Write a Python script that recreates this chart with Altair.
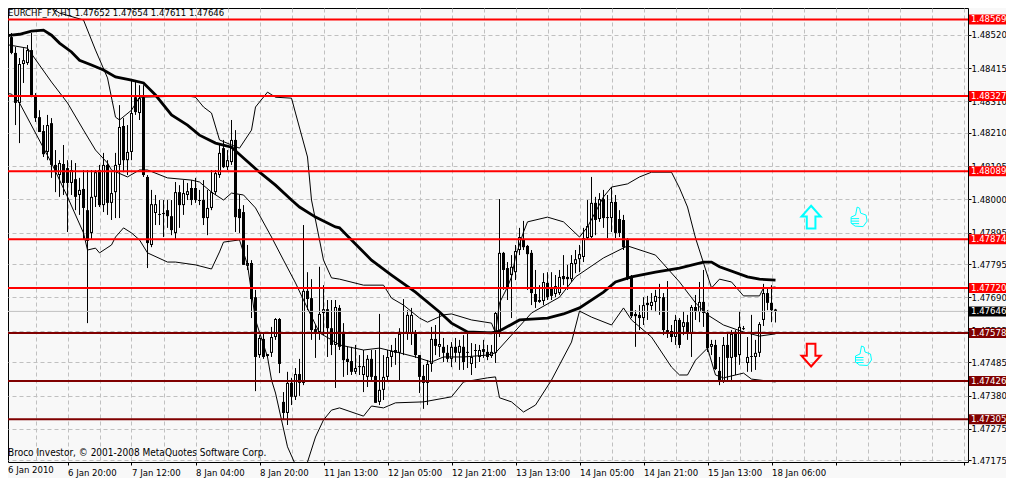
import altair as alt
import pandas as pd

# prices in 1e-5 units
highs = [148526,148526,148526,148482,148447,148478,148488,148526,148336,148282,148235,148267,148257,148156,148124,148172,148124,148124,148115,148068,148093,148093,148093,148093,148109,148147,148124,148086,148147,148298,148257,148235,148377,148371,148361,148361,148077,148030,148014,147998,147998,147998,147998,148055,148045,148061,148052,148061,148068,148030,148061,148030,148093,148093,148178,148188,148156,148251,148219,148014,147982,147856,147808,147714,147571,147581,147511,147597,147625,147625,147391,147455,147436,147467,147496,147919,147770,147748,147603,147787,147729,147682,147682,147682,147666,147609,147534,147534,147540,147508,147524,147508,147524,147524,147638,147508,147524,147540,147562,147593,147685,147650,147657,147587,147508,147477,147492,147597,147603,147638,147562,147540,147549,147562,147556,147571,147578,147546,147543,147540,147556,147540,147540,147644,148001,147834,147802,147824,147856,147910,147932,147856,147840,147777,147729,147767,147770,147770,147761,147777,147824,147793,147824,147840,147856,147910,147998,148071,148008,148020,148030,148014,148039,148014,147966,147951,147878,147761,147650,147666,147691,147695,147704,147714,147733,147704,147742,147603,147635,147625,147647,147635,147666,147698,147739,147777,147650,147556,147556,147502,147565,147581,147587,147587,147647,147600,147565,147635,147556,147612,147733,147720,147729,147654]
opens = [148513,148478,148513,148463,148305,148428,148431,148472,148330,148260,148216,148150,148241,148109,148077,148112,148099,148052,148064,148014,148033,147966,147894,148008,148093,147982,148109,147989,148023,148109,148232,148124,148150,148323,148273,148323,148071,147856,147957,147951,147954,147966,147947,147894,148023,147982,148014,148036,148036,147998,147998,147941,147973,148023,148077,148162,148102,148118,148188,147970,147960,147790,147799,147691,147508,147559,147511,147515,147565,147622,147360,147325,147420,147376,147448,147420,147711,147688,147590,147581,147641,147653,147593,147540,147657,147578,147496,147489,147455,147473,147445,147439,147496,147442,147360,147398,147439,147502,147524,147515,147581,147578,147578,147578,147508,147442,147420,147480,147559,147534,147534,147515,147496,147534,147515,147534,147515,147480,147521,147502,147527,147518,147505,147515,147578,147831,147783,147761,147770,147840,147875,147853,147831,147701,147676,147679,147736,147723,147701,147704,147758,147755,147748,147796,147811,147818,147878,147881,147989,147938,148001,147944,147941,147992,147938,147935,147875,147752,147638,147635,147625,147673,147663,147676,147688,147691,147587,147584,147565,147619,147597,147612,147578,147660,147644,147676,147641,147534,147540,147458,147423,147540,147499,147581,147508,147593,147483,147502,147502,147515,147619,147704,147673,147652]
closes = [148482,148513,148463,148305,148428,148440,148472,148330,148257,148213,148143,148235,148109,148086,148115,148052,148052,148093,148008,148030,147973,147869,148008,148086,147982,148109,147989,148020,148109,148229,148124,148150,148273,148276,148320,148077,147862,147985,147985,147954,147957,147947,147903,148023,147982,148020,148026,147998,147998,147995,147941,147973,148023,148083,148147,148102,148124,148188,147944,147941,147793,147799,147685,147502,147562,147502,147505,147565,147622,147480,147325,147420,147376,147448,147420,147711,147685,147587,147581,147638,147653,147593,147540,147660,147534,147492,147486,147455,147467,147470,147473,147496,147439,147357,147398,147439,147502,147521,147515,147575,147575,147635,147635,147508,147439,147420,147480,147559,147537,147543,147515,147496,147534,147515,147537,147486,147518,147502,147524,147524,147518,147502,147518,147641,147831,147777,147723,147787,147837,147881,147849,147827,147704,147676,147682,147739,147691,147695,147726,147755,147748,147748,147799,147811,147827,147878,147916,147989,147935,148001,147941,147941,147992,147894,147894,147849,147752,147631,147631,147625,147666,147666,147676,147695,147691,147587,147581,147565,147619,147540,147612,147581,147660,147644,147676,147641,147530,147543,147464,147426,147540,147499,147575,147502,147597,147590,147502,147505,147515,147606,147704,147673,147650,147646]
lows = [148478,148418,148459,148235,148178,148368,148425,148323,148245,148213,148134,148124,148068,148023,148008,148014,147897,148014,147966,147951,147872,147609,147872,147976,147976,147960,147951,147935,147941,147941,148086,148077,148124,148267,148251,148071,147783,147849,147919,147919,147881,147910,147887,147872,147910,147951,147998,147982,147989,147982,147919,147887,147966,148014,148068,148099,148093,148109,147897,147894,147793,147777,147625,147394,147499,147496,147502,147502,147556,147451,147303,147287,147350,147366,147379,147413,147650,147556,147499,147556,147571,147502,147508,147404,147524,147439,147445,147445,147448,147445,147391,147407,147423,147357,147350,147366,147429,147470,147477,147429,147508,147556,147540,147499,147388,147338,147350,147455,147508,147502,147486,147486,147470,147486,147461,147461,147467,147445,147467,147486,147499,147492,147499,147483,147565,147714,147682,147625,147745,147824,147840,147714,147666,147657,147673,147666,147682,147682,147691,147698,147729,147714,147739,147767,147770,147802,147872,147878,147887,147929,147910,147878,147897,147878,147881,147840,147745,147625,147534,147587,147603,147619,147650,147644,147635,147571,147562,147549,147540,147530,147571,147556,147502,147619,147612,147597,147518,147508,147461,147413,147420,147429,147423,147445,147477,147587,147455,147455,147461,147502,147600,147650,147612,147611]

ma_i = [0,2,4,7,10,12,14,17,19,22,25,28,32,35,38,42,46,49,53,57,60,64,68,72,74,78,83,84,87,92,97,103,109,112,116,122,124,129,136,140,144,150,153,157,163,169,175,177,179,186,189,193]
ma_p = [148516,148519,148522,148532,148535,148519,148494,148466,148440,148425,148409,148387,148377,148368,148330,148267,148235,148203,148178,148165,148131,148086,148045,147998,147976,147944,147913,147910,147872,147808,147761,147707,147644,147609,147581,147578,147584,147619,147625,147638,147657,147707,147739,147755,147770,147783,147802,147802,147787,147755,147748,147745]

up_i = [10,14,20,23,26,28,29,32,34,46,48,50,52,54,57,59,62,63,66,68,72,73,76,77,79,80,82,84,90,95,97,100,104,106,110,112,117,122,123,124,126,127,128,130,131,136,140,144,146,150,152,156,159,162,167,169,171,173,175,177,179,182,185,189,190,193]
up_p = [148621,148589,148567,148472,148384,148260,148251,148282,148323,148327,148323,148292,148273,148188,148172,148162,148219,148292,148339,148323,148320,148273,148134,147998,147872,147808,147752,147748,147729,147729,147688,147666,147625,147612,147635,147638,147619,147609,147578,147673,147723,147755,147818,147897,147929,147944,147929,147881,147913,148008,148039,148049,148071,148086,148086,148036,147976,147878,147799,147720,147748,147739,147695,147695,147720,147723]

mid_i = [0,6,12,16,20,23,26,27,31,34,36,41,47,49,52,55,57,60,63,67,70,73,75,79,82,84,90,94,99,103,107,110,115,121,123,127,132,139,143,150,156,163,169,173,176,180,185,189,193]
mid_p = [148491,148478,148371,148305,148219,148156,148115,148093,148071,148093,148093,148068,148061,148055,148023,147998,148020,148014,147973,147881,147808,147736,147682,147578,147556,147540,147524,147530,147515,147502,147486,147502,147502,147508,147515,147571,147641,147691,147755,147815,147853,147824,147739,147673,147635,147603,147581,147568,147575]

low_i = [0,2,4,12,16,20,21,23,24,27,28,30,32,34,36,41,43,48,52,54,55,59,61,63,66,67,68,71,73,75,76,78,80,82,84,90,92,95,98,105,112,115,121,123,124,127,130,133,137,142,144,147,152,155,157,162,167,169,171,173,176,178,180,185,187,193]
low_p = [148336,148333,148305,148115,148008,147894,147840,147846,147831,147856,147881,147910,147894,147872,147831,147802,147802,147793,147780,147834,147865,147872,147793,147619,147502,147429,147388,147218,147161,147129,147170,147249,147303,147334,147341,147315,147347,147341,147357,147360,147376,147423,147436,147439,147373,147360,147328,147350,147429,147549,147647,147628,147603,147657,147619,147565,147470,147445,147445,147492,147530,147445,147436,147451,147432,147423]

red_levels = [1.48569,1.48327,1.48089,1.47874,1.47720]
dark_levels = [1.47578,1.47426,1.47305]
last_price = [1.47646]
y_ticks = [1.48520,1.48415,1.48310,1.48210,1.48105,1.48000,1.47895,1.47795,1.47690,1.47585,1.47485,1.47380,1.47275,1.47175]
x_grid = list(range(8,241,8))
x_labels = ['','6 Jan 20:00','7 Jan 12:00','8 Jan 04:00','8 Jan 20:00','11 Jan 13:00','12 Jan 05:00','12 Jan 21:00','13 Jan 13:00','14 Jan 05:00','14 Jan 21:00','15 Jan 13:00','18 Jan 06:00']
header = 'EURCHF_FX,H1  1.47652 1.47654 1.47611 1.47646'
credit = 'Broco Investor, © 2001-2008 MetaQuotes Software Corp.'
first_label = '6 Jan 2010'

FONT = 'DejaVu Sans Condensed'
FS = 9.5
BG = '#f8f8f8'
W, H = 960, 454

n = min(len(highs), len(opens), len(closes), len(lows))
df = pd.DataFrame({'i': range(n), 'h': highs[:n], 'o': opens[:n], 'c': closes[:n], 'l': lows[:n]})
df['top'] = df[['o','c']].max(axis=1)
df['bot'] = df[['o','c']].min(axis=1)
df['in_top'] = df['top'] - 3.2
df['in_bot'] = df['bot'] + 3.2
for col in ['h','o','c','l','top','bot','in_top','in_bot']:
    df[col] = df[col] / 1e5
bull = df[(df.c > df.o) & (df.in_top > df.in_bot)]

xs = alt.Scale(domain=[1.125, 241.125], nice=False, zero=False, padding=0)
ys = alt.Scale(domain=[1.47170, 1.48605], nice=False, zero=False, padding=0)

xaxis = alt.Axis(values=x_grid, title=None, grid=True, gridColor='#c0c0c0', gridDash=[4,3], gridWidth=1,
                 domain=False, tickColor='black', tickSize=3,
                 tickOpacity={'condition': {'test': 'datum.value % 16 == 0', 'value': 1}, 'value': 0},
                 labelAlign='left', labelPadding=2, labelFont=FONT, labelFontSize=FS, labelColor='black',
                 labelOverlap=False, labelFlush=False,
                 labelExpr=str(x_labels) + "[datum.value / 16] || ''")
yaxis = alt.Axis(orient='right', values=y_ticks, title=None, grid=True, gridColor='#c0c0c0', gridDash=[4,3], gridWidth=1,
                 domain=False, tickColor='black', tickSize=3, format='.5f',
                 labelAlign='left', labelPadding=0, labelFont=FONT, labelFontSize=FS, labelColor='black',
                 labelOverlap=False, labelFlush=False)

X = alt.X('i:Q', scale=xs, axis=xaxis)
def YF(field):
    return alt.Y(field, scale=ys, axis=yaxis)
Y = YF('p:Q')

wicks = alt.Chart(df).mark_rule(color='black', strokeWidth=1).encode(x=X, y=YF('h:Q'), y2='l:Q')
bodies = alt.Chart(df).mark_bar(size=3, color='black').encode(x=X, y=YF('top:Q'), y2='bot:Q')
inner = alt.Chart(bull).mark_rule(color='white', strokeWidth=1).encode(x=X, y=YF('in_top:Q'), y2='in_bot:Q')

def line(i_list, p_list, width):
    d = pd.DataFrame({'i': i_list, 'p': [v / 1e5 for v in p_list]})
    return alt.Chart(d).mark_line(color='black', strokeWidth=width, clip=True).encode(x=X, y=Y)

def levels(vals, color, width=2):
    return alt.Chart(pd.DataFrame({'p': vals})).mark_rule(color=color, strokeWidth=width).encode(y=Y)

def boxes(vals, color):
    d = pd.DataFrame({'p': vals, 't': ['%.5f' % v for v in vals]})
    box = alt.Chart(d).mark_rule(color=color, strokeWidth=10).encode(
        x=alt.value(961), x2=alt.value(998), y=Y)
    txt = alt.Chart(d).mark_text(color='white', align='left', baseline='middle', font=FONT, fontSize=FS).encode(
        x=alt.value(963), y=Y, text='t:N')
    return box + txt

UP = 'M0,-0.95 L0.8,-0.05 L0.36,-0.05 L0.36,0.95 L-0.36,0.95 L-0.36,-0.05 L-0.8,-0.05 Z'
DOWN = 'M0,0.95 L0.8,0.05 L0.36,0.05 L0.36,-0.95 L-0.36,-0.95 L-0.36,0.05 L-0.8,0.05 Z'
THUMB = ('M-0.2,-1 L0.05,-0.9 L0.15,-0.4 L0.7,-0.2 L0.8,0.4 L0.4,0.95 L-0.4,0.9 L-0.8,0.6 L-0.8,0 L-0.35,-0.2 Z '
         'M-0.8,0.15 L0,0.15 M-0.8,0.4 L0,0.4 M-0.75,0.65 L0,0.65')

def icon(i, p, path, size, color, sw):
    d = pd.DataFrame({'i': [i], 'p': [p]})
    return alt.Chart(d).mark_point(shape=path, size=size, filled=False, stroke=color, strokeWidth=sw, opacity=1).encode(x=X, y=Y)

def note(text, x, y, size=FS):
    return alt.Chart(pd.DataFrame({'t': [text]})).mark_text(align='left', baseline='middle', font=FONT, fontSize=size, color='black').encode(
        x=alt.value(x), y=alt.value(y), text='t:N')

layers = [
    wicks, bodies, inner,
    levels(last_price, '#c0c0c0', 1),
    line(ma_i, ma_p, 2.8), line(up_i, up_p, 1), line(mid_i, mid_p, 1), line(low_i, low_p, 1),
    levels(red_levels, '#ff0000'), levels(dark_levels, '#800000'),
    boxes(red_levels, '#ff0000'), boxes(dark_levels, '#800000'), boxes(last_price, 'black'),
    icon(201.9, 1.47944, UP, 576, '#00ffff', 2),
    icon(201.9, 1.47508, DOWN, 576, '#ff0000', 2),
    icon(213.9, 1.47944, THUMB, 400, '#00ffff', 1),
    icon(215.0, 1.47505, THUMB, 400, '#00ffff', 1),
    note(header, 0, 5),
    note(credit, 0, 445, 10),
    note(first_label, 0, 462),
]

chart = alt.layer(*layers).properties(
    width=W, height=H,
    autosize=alt.AutoSizeParams(type='none'),
    padding={'left': 0, 'top': 0, 'right': 38, 'bottom': 16},
    background=BG,
).configure_view(stroke='black', strokeWidth=1, fill=BG)

chart.save('out.html', embed_options={'renderer': 'svg', 'actions': False})
